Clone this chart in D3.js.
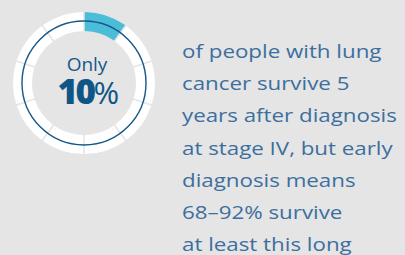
<!DOCTYPE html>
<html>
<head>
<meta charset="utf-8">
<script src="https://cdn.jsdelivr.net/npm/d3@7"></script>
<style>
  html, body { margin: 0; padding: 0; background: #e5e5e5; }
  svg { display: block; }
</style>
</head>
<body>
<div id="chart"></div>
<script>
// values
var survivalPct = 10;
var segmentCount = 10;
var headline = ["Only", "10", "%"];
var bodyLines = [
  "of people with lung",
  "cancer survive 5",
  "years after diagnosis",
  "at stage IV, but early",
  "diagnosis means",
  "68\u201392% survive",
  "at least this long"
];

var svgWidth = 405;
var svgHeight = 255;

var svg = d3.select("#chart")
  .append("svg")
  .attr("width", svgWidth)
  .attr("height", svgHeight);

svg.append("rect")
  .attr("width", svgWidth)
  .attr("height", svgHeight)
  .attr("fill", "#e5e5e5");

// ring
var cx = 84, cy = 83;
var ring = svg.append("g")
  .attr("transform", `translate(${cx}, ${cy})`);

var segData = d3.range(segmentCount).map(function(i) {
  return { index: i, value: 100 / segmentCount };
});

var pie = d3.pie()
  .sort(null)
  .value(d => d.value);

var arc = d3.arc()
  .innerRadius(52)
  .outerRadius(71)
  .padAngle(0.025)
  .padRadius(62);

var fillScale = d3.scaleThreshold()
  .domain([survivalPct])
  .range(["#4bbdd9", "#ffffff"]);

ring.selectAll("path")
  .data(pie(segData))
  .enter()
  .append("path")
  .attr("d", arc)
  .attr("fill", d => fillScale(d.data.index * 100 / segmentCount));

ring.append("circle")
  .attr("r", 62)
  .attr("fill", "none")
  .attr("stroke", "#14578a")
  .attr("stroke-width", 1.4);

// headline
svg.append("text")
  .attr("x", 87)
  .attr("y", 71)
  .attr("text-anchor", "middle")
  .attr("font-family", "'Open Sans', sans-serif")
  .attr("font-size", "19px")
  .attr("fill", "#15588a")
  .text(headline[0]);

var big = svg.append("text")
  .attr("x", 87)
  .attr("y", 104)
  .attr("text-anchor", "middle")
  .attr("font-family", "'Open Sans', sans-serif")
  .attr("font-size", "35px")
  .attr("letter-spacing", "-2.5px")
  .attr("fill", "#0f5686");
big.append("tspan").attr("font-weight", "800").text(headline[1]);
big.append("tspan").attr("font-weight", "400").attr("font-size", "31px").text(headline[2]);

// body text, widened a little to match the wide original face
var bodyX = 182, bodyTop = 58, lineGap = 32.2;

var rows = svg.append("g")
  .selectAll("g")
  .data(bodyLines)
  .enter()
  .append("g");

var body = rows.append("text")
  .attr("x", 0)
  .attr("y", 0)
  .attr("font-family", "'Open Sans', sans-serif")
  .attr("font-size", "19px")
  .attr("fill", "#3c6f9e")
  .text(d => d);

// "years after diagnosis" spans about 215px in the picture
var natural = body.filter((d, i) => i === 2).node().getComputedTextLength();
var sx = 215 / natural;
rows.attr("transform", (d, i) => `translate(${bodyX}, ${bodyTop + i * lineGap}) scale(${sx}, 1)`);
</script>
</body>
</html>
